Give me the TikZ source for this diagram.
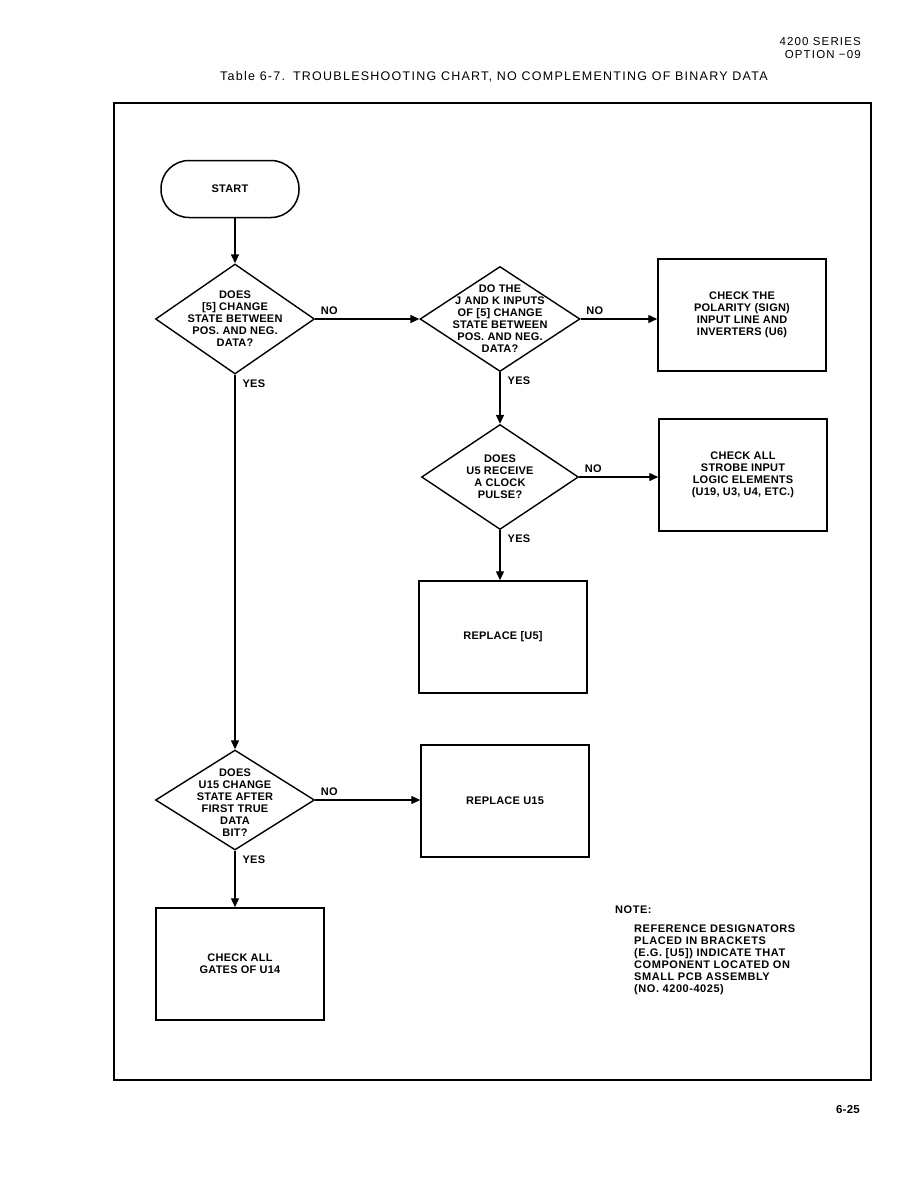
\documentclass[tikz,border=0pt]{standalone}
\usepackage{fontspec}
\setmainfont{Liberation Sans}
\newfontfamily\chartfont[LetterSpace=2]{Liberation Sans}
\newfontfamily\notefont[LetterSpace=5]{Liberation Sans}
\newfontfamily\headfont[LetterSpace=10]{Liberation Sans}
\usetikzlibrary{arrows.meta,shapes.geometric}

\begin{document}
\begin{tikzpicture}[x=1pt,y=-1pt,
  box/.style={draw,line width=1.5pt,minimum width=168pt,minimum height=112pt,inner sep=0pt,align=center,font=\chartfont\bfseries\fontsize{11}{12}\selectfont},
  term/.style={draw,line width=1.5pt,rounded corners=28pt,minimum width=138pt,minimum height=57pt,align=center,font=\chartfont\bfseries\fontsize{11}{12}\selectfont},
  test/.style={draw,diamond,line width=1.4pt,inner sep=0pt},
  qtext/.style={align=center,inner sep=0pt,font=\chartfont\bfseries\fontsize{11}{12}\selectfont},
  arrow/.style={-{Triangle[length=9pt,width=8pt]},line width=1.4pt},
  no/.style={pos=0,anchor=south west,inner sep=1pt,xshift=4pt,yshift=3pt,font=\chartfont\bfseries\fontsize{11}{12}\selectfont},
  yes/.style={pos=0,anchor=north west,inner sep=1pt,xshift=6pt,yshift=-3pt,font=\chartfont\bfseries\fontsize{11}{12}\selectfont}
]
\useasboundingbox (0,0) rectangle (918,1188);
% page header
\node[anchor=base east,inner sep=0pt,align=right,font=\headfont\fontsize{11.5}{13}\selectfont] (series) at (861,59) {4200 SERIES\\OPTION −09};
\node[anchor=base west,inner sep=0pt,font=\headfont\fontsize{12.5}{14}\selectfont] (title) at (220,81) {Table 6-7.\hspace{8pt}TROUBLESHOOTING CHART, NO COMPLEMENTING OF BINARY DATA};
\draw[line width=1.3pt] (114,103) rectangle (871,1080);
% chart
\node[term] (start) at (230,189) {START};
\node[test,minimum width=159pt,minimum height=110pt] (chg) at (235,319) {};
\node[qtext] (chgtxt) at (chg) {DOES\\{[5]} CHANGE\\STATE BETWEEN\\POS. AND NEG.\\DATA?};
\node[test,minimum width=160pt,minimum height=105pt] (jk) at (500,319) {};
\node[qtext] (jktxt) at (jk) {DO THE\\J AND K INPUTS\\OF [5] CHANGE\\STATE BETWEEN\\POS. AND NEG.\\DATA?};
\node[box] (pol) at (742,315) {CHECK THE\\POLARITY (SIGN)\\INPUT LINE AND\\INVERTERS (U6)};
\node[test,minimum width=157pt,minimum height=105pt] (clk) at (500,477) {};
\node[qtext] (clktxt) at (clk) {DOES\\U5 RECEIVE\\A CLOCK\\PULSE?};
\node[box] (strobe) at (743,475) {CHECK ALL\\STROBE INPUT\\LOGIC ELEMENTS\\(U19, U3, U4, ETC.)};
\node[box] (repu5) at (503,637) {REPLACE [U5]};
\node[test,minimum width=159pt,minimum height=100pt] (u15) at (235,800) {};
\node[qtext] (u15txt) at (235,803) {DOES\\U15 CHANGE\\STATE AFTER\\FIRST TRUE\\DATA\\BIT?};
\node[box] (repu15) at (505,801) {REPLACE U15};
\node[box] (gates) at (240,964) {CHECK ALL\\GATES OF U14};
\draw[arrow] (start.south -| chg.north) -- (chg.north);
\draw[arrow] (chg.east) -- node[no]{NO} (jk.west);
\draw[arrow] (jk.east) -- node[no]{NO} (jk.east -| pol.west);
\draw[arrow] (jk.south) -- node[yes]{YES} (clk.north);
\draw[arrow] (clk.east) -- node[no]{NO} (clk.east -| strobe.west);
\draw[arrow] (clk.south) -- node[yes]{YES} (clk.south |- repu5.north);
\draw[arrow] (chg.south) -- node[yes]{YES} (u15.north);
\draw[arrow] (u15.east) -- node[no]{NO} (u15.east -| repu15.west);
\draw[arrow] (u15.south) -- node[yes]{YES} (u15.south |- gates.north);
% note
\node[anchor=north west,inner sep=0pt,font=\notefont\bfseries\fontsize{11}{12}\selectfont] (note) at (615,906) {NOTE:};
\node[anchor=north west,inner sep=0pt,align=left,font=\notefont\bfseries\fontsize{11}{12}\selectfont] (notetxt) at (634,925) {REFERENCE DESIGNATORS\\PLACED IN BRACKETS\\(E.G. [U5]) INDICATE THAT\\COMPONENT LOCATED ON\\SMALL PCB ASSEMBLY\\(NO. 4200-4025)};
\node[anchor=base east,inner sep=0pt,font=\chartfont\bfseries\fontsize{11.5}{13}\selectfont] (page) at (860,1113) {6-25};
\end{tikzpicture}
\end{document}
